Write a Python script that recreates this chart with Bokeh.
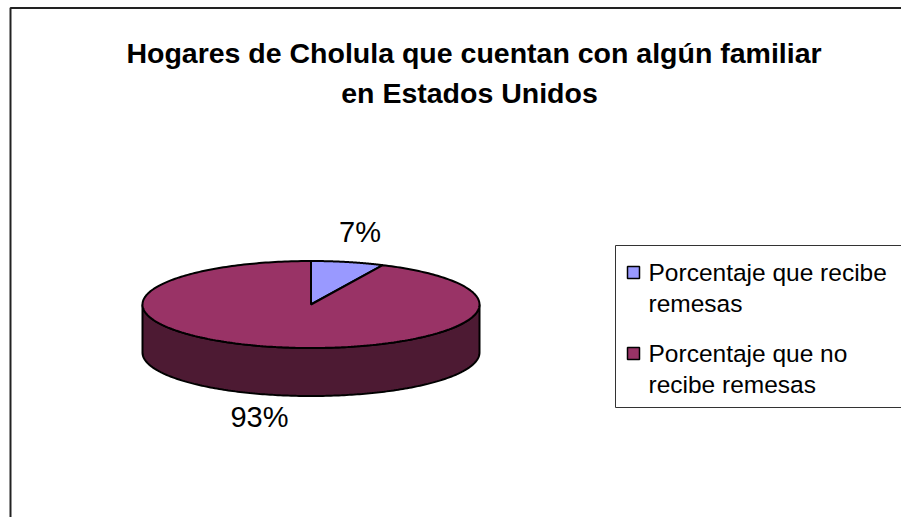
import numpy as np
from bokeh.plotting import figure
from bokeh.models import Range1d
from bokeh.core.properties import value
from bokeh.embed import file_html
from bokeh.resources import INLINE

# ---- data ----
categories = ["Porcentaje que recibe remesas", "Porcentaje que no recibe remesas"]
legend_lines = [["Porcentaje que recibe", "remesas"], ["Porcentaje que no", "recibe remesas"]]
values = [7, 93]
labels = ["7%", "93%"]
top_colors = ["#9999FF", "#993366"]
side_colors = ["#4C4C80", "#4D1A33"]
title_lines = ["Hogares de Cholula que cuentan con algún familiar", "en Estados Unidos"]

W, H = 901, 517
FONT = "Liberation Sans"

p = figure(width=W, height=H, output_backend="svg", toolbar_location=None,
           x_range=Range1d(0, W), y_range=Range1d(H, 0), min_border=0)
p.axis.visible = False
p.grid.visible = False
p.outline_line_color = None
p.background_fill_color = "white"
p.border_fill_color = "white"

# frame (top and left edges visible; rest extends beyond view)
p.line([10, 10, W + 20], [H + 20, 7.5, 7.5], line_color="#222222", line_width=2)

# ---- pie geometry ----
cx, cy, a, b, depth = 310.5, 304.0, 168.5, 43.5, 48.0

def pt(t):
    return cx + a * np.sin(t), cy - b * np.cos(t)

fr = np.array(values, dtype=float) / sum(values)
ends = np.cumsum(fr) * 2 * np.pi
starts = ends - fr * 2 * np.pi

# sides (front half: t in [pi/2, 3pi/2])
side_xs, side_ys, side_c = [], [], []
for s, e, c in zip(starts, ends, side_colors):
    lo, hi = max(s, np.pi / 2), min(e, 3 * np.pi / 2)
    if hi > lo:
        t = np.linspace(lo, hi, 200)
        x, y = pt(t)
        side_xs.append(list(x) + list(x[::-1]))
        side_ys.append(list(y) + list((y + depth)[::-1]))
        side_c.append(c)
p.patches(side_xs, side_ys, fill_color=side_c, line_color="black", line_width=2)

# top wedges
top_xs, top_ys = [], []
for s, e in zip(starts, ends):
    t = np.linspace(s, e, 300)
    x, y = pt(t)
    top_xs.append([cx] + list(x) + [cx])
    top_ys.append([cy] + list(y) + [cy])
p.patches(top_xs, top_ys, fill_color=top_colors, line_color="black", line_width=2)

# percent labels
lab_x = [359.5, 259.0]
lab_y = [231.0, 416.0]
p.text(lab_x, lab_y, text=labels, text_font=value(FONT), text_font_size="29px",
       text_align="center", text_baseline="middle", text_color="black")

# title
p.text([473.5, 469], [52, 92.5], text=title_lines, text_font=value(FONT),
       text_font_size="28.5px", text_font_style="bold", text_align="center",
       text_baseline="alphabetic", text_color="black")

# legend
p.quad(left=[615], right=[W + 20], top=[245], bottom=[407], fill_color="white",
       line_color="#333333", line_width=1)
p.rect([633, 633], [272, 353], width=12, height=12, fill_color=top_colors,
       line_color="black", line_width=1.5)
lx, ly, lt = [], [], []
for i, lines in enumerate(legend_lines):
    for j, ln in enumerate(lines):
        lx.append(648)
        ly.append([272, 353][i] + j * 31)
        lt.append(ln)
p.text(lx, ly, text=lt, text_font=value(FONT), text_font_size="24.5px",
       text_align="left", text_baseline="middle", text_color="black")

open("out.html", "w").write(file_html(p, INLINE))
